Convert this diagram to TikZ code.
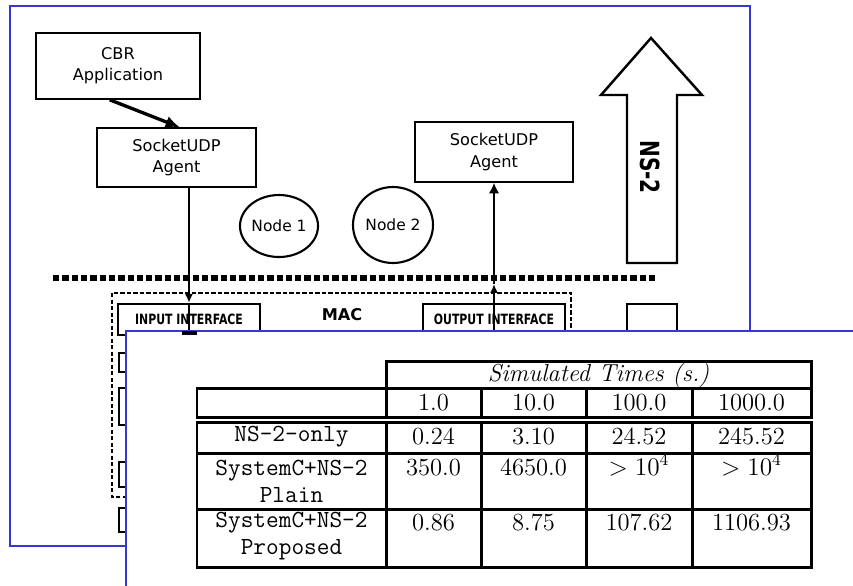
\documentclass[tikz,border=0pt]{standalone}
\usepackage{fontspec}
\newfontfamily\dvsans{DejaVu Sans}
\usepackage{xcolor}
\usetikzlibrary{arrows.meta,calc,shapes.geometric}
\definecolor{frameblue}{RGB}{55,55,210}

\begin{document}
\begin{tikzpicture}[x=0.2mm,y=-0.2mm,>={Latex[length=6pt,width=6pt]},
  frame/.style={frameblue,line width=1.1pt},
  box/.style={draw,line width=0.9pt,align=center,inner sep=0pt,font=\dvsans\fontsize{9.2}{12}\selectfont},
  ring/.style={draw,ellipse,line width=1.2pt,inner sep=0pt,font=\dvsans\fontsize{8.8}{10}\selectfont},
  iface/.style={draw,line width=1.4pt,inner sep=0pt,font=\dvsans\bfseries\fontsize{6.2}{7}\selectfont},
  tabrule/.style={line width=1.7pt},
  cell/.style={inner sep=0pt,text height=10pt,text depth=3pt,font=\fontsize{14}{16}\selectfont},
  ttcell/.style={inner sep=0pt,align=center,font=\fontsize{14}{15.3}\selectfont\ttfamily}]
  \clip (0,0) rectangle (853,585);
  % pannello dietro
  \draw[frame] (10,6) rectangle (750,546);
  \node[box,minimum width=32.8mm,minimum height=13.2mm] (cbr) at (118,66) {CBR\\Application};
  \node[box,minimum width=31.8mm,minimum height=11.8mm] (sockL) at (176.5,157.5) {SocketUDP\\Agent};
  \node[box,minimum width=31.6mm,minimum height=12mm] (sockR) at (494,152) {SocketUDP\\Agent};
  \node[ring,minimum width=15.6mm,minimum height=12.4mm] (node1) at (279,226) {Node 1};
  \node[ring,minimum width=16mm,minimum height=15.2mm] (node2) at (393,225) {Node 2};
  \draw[->,>={Latex[length=8pt,width=7pt]},line width=1.9pt]
    ($(cbr.south west)!0.45!(cbr.south east)$) -- ($(sockL.north west)!0.52!(sockL.north east)$);
  % freccia NS-2
  \draw[line width=1.4pt,line join=miter] (627,263) -- (677,263) -- (677,95) -- (702,95)
    -- (651,38) -- (601,95) -- (627,95) -- cycle;
  \node[font=\dvsans\bfseries\fontsize{12}{14}\selectfont,rotate=-90] (ns2) at (650,167) {\scalebox{0.95}[1.25]{NS-2}};
  % confine
  \draw[line width=3.1pt,dash pattern=on 3.6pt off 1.7pt] (53,278) -- (657,278);
  % MAC
  \draw[line width=0.8pt,dash pattern=on 2.5pt off 1.2pt] (112,293) rectangle (571,497);
  \node[iface,minimum width=28.4mm,minimum height=6.2mm] (inL) at (189,319.5) {\scalebox{1}[1.3]{INPUT INTERFACE}};
  \node[font=\dvsans\bfseries\fontsize{9.2}{11}\selectfont] (mac) at (342,315) {MAC};
  \node[iface,minimum width=28.4mm,minimum height=6.2mm] (outR) at (494,319.5) {\scalebox{1}[1.3]{OUTPUT INTERFACE}};
  \draw[line width=1.4pt] (627,304) rectangle (677,420);
  \draw[line width=1.4pt] (119,353) rectangle (220,372);
  \draw[line width=1.4pt] (119,388) rectangle (220,425);
  \draw[line width=1.4pt] (119,462) rectangle (220,487);
  \draw[line width=1.4pt] (119,508) rectangle (220,532);
  \coordinate (upR) at (494,284);
  \draw[->,>={Latex[length=5pt,width=4.5pt]},line width=1.5pt] (sockL.south -| inL.north) -- (inL.north);
  \draw[line width=1.5pt] (inL.north) -- (inL.south);
  \draw[->,>={Latex[length=5pt,width=4.5pt]},line width=1.5pt] (outR.south) -- (upR);
  \draw[->,line width=1.5pt] (upR) -- (sockR.south);
  % pannello davanti
  \fill[white] (126,331) rectangle (870,600);
  \draw[frame] (870,331) -- (126,331) -- (126,600);
  \draw[line width=2pt] (182,333) -- (197,333);
  % tabella
  \draw[tabrule] (386,361) rectangle (811,388);
  \draw[tabrule] (197,388) rectangle (811,417);
  \draw[tabrule] (197,422) rectangle (811,567);
  \draw[tabrule] (197,453) -- (811,453) (197,509) -- (811,509);
  \draw[tabrule] (386,388) -- (386,417) (481,388) -- (481,417) (586,388) -- (586,417) (692,388) -- (692,417);
  \draw[tabrule] (386,422) -- (386,567) (481,422) -- (481,567) (586,422) -- (586,567) (692,422) -- (692,567);
  \node[cell,font=\fontsize{14}{16}\selectfont\itshape] (simt) at (598.5,375) {Simulated Times (s.)};
  \node[cell] (t1) at (433.5,404) {1.0};
  \node[cell] (t2) at (533.5,404) {10.0};
  \node[cell] (t3) at (639,404) {100.0};
  \node[cell] (t4) at (751.5,404) {1000.0};
  \node[ttcell] (only) at (291.5,437) {NS-2-only};
  \node[ttcell] (plain) at (291.5,481) {SystemC+NS-2\\Plain};
  \node[ttcell] (prop) at (291.5,536) {SystemC+NS-2\\Proposed};
  \node[cell] (o1) at (433.5,438) {0.24};
  \node[cell] (o2) at (533.5,438) {3.10};
  \node[cell] (o3) at (639,438) {24.52};
  \node[cell] (o4) at (751.5,438) {245.52};
  \node[cell] (p1) at (433.5,469) {350.0};
  \node[cell] (p2) at (533.5,469) {4650.0};
  \node[cell] (p3) at (639,469) {$>10^4$};
  \node[cell] (p4) at (751.5,469) {$>10^4$};
  \node[cell] (q1) at (433.5,524) {0.86};
  \node[cell] (q2) at (533.5,524) {8.75};
  \node[cell] (q3) at (639,524) {107.62};
  \node[cell] (q4) at (751.5,524) {1106.93};
\end{tikzpicture}
\end{document}
